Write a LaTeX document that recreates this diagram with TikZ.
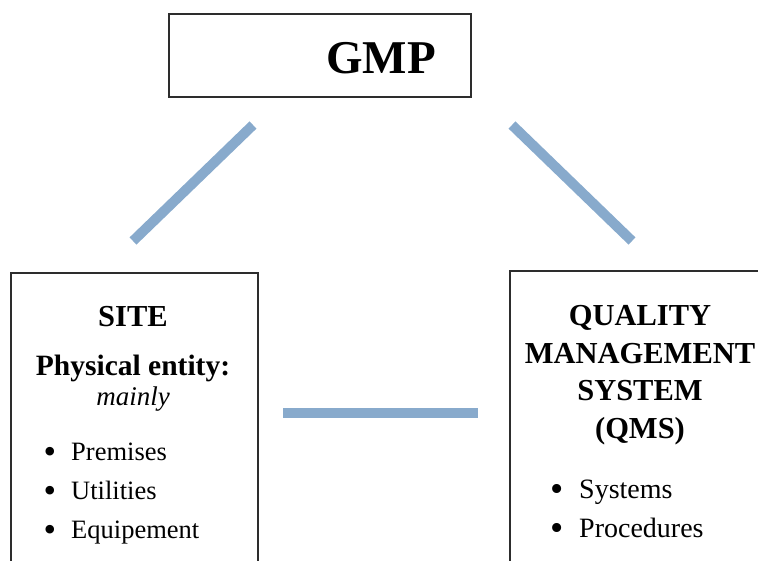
\documentclass[tikz,border=0pt]{standalone}
\usepackage{fontspec}
\setmainfont{Liberation Serif}
\definecolor{linkblue}{RGB}{136,170,204}
\definecolor{boxline}{RGB}{45,45,45}
\newcommand{\bigbul}{\raisebox{-3.5pt}{\scalebox{1.35}{\textbullet}}}
\begin{document}
\begin{tikzpicture}[x=1pt,y=-1pt,
  box/.style={draw=boxline,line width=1.8pt,fill=none,inner sep=0pt},
  link/.style={draw=linkblue,line width=10pt},
  txt/.style={anchor=base,inner sep=0pt,text=black},
  ttl/.style={txt,font=\fontsize{30.5}{32}\selectfont\bfseries},
  itm/.style={anchor=base west,inner sep=0pt,font=\fontsize{26.5}{30}\selectfont},
  bul/.style={anchor=base,inner sep=0pt,font=\fontsize{26.5}{30}\selectfont},
  itmq/.style={itm,font=\fontsize{28}{30}\selectfont},
  bulq/.style={bul,font=\fontsize{28}{30}\selectfont}]
\useasboundingbox (0,0) rectangle (758,560);
\clip (0,0) rectangle (758,560);
% boxes
\node[box,minimum width=302pt,minimum height=83pt] (gmp) at (320,55.5) {};
\node[box,minimum width=247pt,minimum height=320pt,anchor=north west] (site) at (10,272) {};
\node[box,minimum width=280pt,minimum height=320pt,anchor=north west] (qms) at (509,270) {};
% texts
\node[txt,font=\fontsize{47}{50}\selectfont\bfseries] (gmpt) at (381,73) {GMP};
\node[ttl] (sitet) at (133,326) {SITE};
\node[ttl,font=\fontsize{29.5}{32}\selectfont\bfseries] (phys) at (133,375) {Physical entity:};
\node[txt,font=\fontsize{27}{30}\selectfont\itshape] (mainly) at (133,405) {mainly};
\node[bul] (b1) at (50,460) {\bigbul};
\node[itm] (i1) at (71,460) {Premises};
\node[bul] (b2) at (50,499) {\bigbul};
\node[itm] (i2) at (71,499) {Utilities};
\node[bul] (b3) at (50,538) {\bigbul};
\node[itm] (i3) at (71,538) {Equipement};
\node[ttl] (q1) at (640,325) {QUALITY};
\node[ttl] (q2) at (640,363) {MANAGEMENT};
\node[ttl] (q3) at (640,400) {SYSTEM};
\node[ttl] (q4) at (640,438) {(QMS)};
\node[bulq] (b4) at (557,498) {\bigbul};
\node[itmq] (j1) at (579,498) {Systems};
\node[bulq] (b5) at (557,537) {\bigbul};
\node[itmq] (j2) at (579,537) {Procedures};
% connectors
\coordinate (l1a) at (253,125);
\coordinate (l1b) at (133,241);
\coordinate (l2a) at (512,125);
\coordinate (l2b) at (632,241);
\coordinate (l3a) at (283,413);
\coordinate (l3b) at (478,413);
\draw[link] (l1a) -- (l1b);
\draw[link] (l2a) -- (l2b);
\draw[link] (l3a) -- (l3b);
\end{tikzpicture}
\end{document}
